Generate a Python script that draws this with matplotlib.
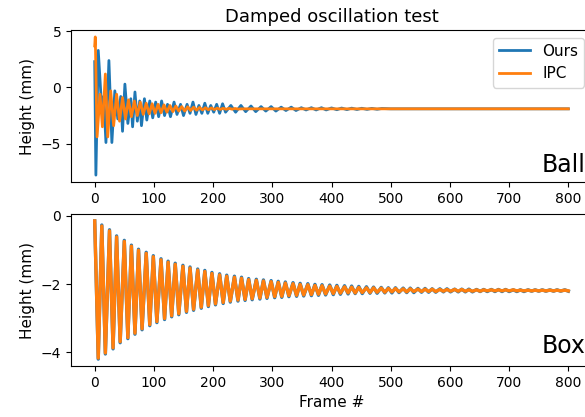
import matplotlib
matplotlib.use("Agg")
import matplotlib.pyplot as plt

# ---- Box: extremes of the oscillation ----
box_peak_frames = [0, 12, 25, 37, 50, 62, 74, 87, 99, 112, 124, 136, 149, 161, 174, 186,
                   198, 211, 223, 236, 248, 260, 273, 285, 298, 310, 322, 335, 347, 360,
                   372, 384, 397, 409, 422, 434, 446, 459, 471, 484, 496, 508, 521, 533,
                   546, 558, 570, 583, 595, 608, 620, 632, 645, 657, 670, 682, 694, 707,
                   719, 732, 744, 756, 769, 781, 794]
box_trough_frames = [6, 18, 31, 43, 56, 68, 80, 93, 105, 118, 130, 142, 155, 167, 180, 192,
                     204, 217, 229, 242, 254, 266, 279, 291, 304, 316, 328, 341, 353, 366,
                     378, 390, 403, 415, 428, 440, 452, 465, 477, 490, 502, 514, 527, 539,
                     552, 564, 576, 589, 601, 614, 626, 638, 651, 663, 676, 688, 700, 713,
                     725, 738, 750, 762, 775, 787, 800]

box_ipc_peaks = [-0.15, -0.30, -0.44, -0.62, -0.75, -0.89, -1.01, -1.10, -1.20, -1.29,
                 -1.36, -1.42, -1.48, -1.53, -1.59, -1.63, -1.69, -1.73, -1.77, -1.80,
                 -1.83, -1.87, -1.89, -1.91, -1.93, -1.95, -1.97, -1.99, -2.01, -2.02,
                 -2.04, -2.05, -2.06, -2.07, -2.08, -2.09, -2.10, -2.11, -2.11, -2.12,
                 -2.13, -2.13, -2.14, -2.14, -2.15, -2.15, -2.15, -2.16, -2.16, -2.16,
                 -2.16, -2.17, -2.17, -2.17, -2.17, -2.17, -2.17, -2.17, -2.18, -2.18,
                 -2.18, -2.18, -2.18, -2.18, -2.18]
box_ipc_troughs = [-4.17, -4.02, -3.87, -3.69, -3.57, -3.44, -3.31, -3.19, -3.10, -3.01,
                   -2.93, -2.87, -2.80, -2.74, -2.68, -2.63, -2.58, -2.54, -2.50, -2.47,
                   -2.45, -2.43, -2.41, -2.39, -2.37, -2.36, -2.34, -2.33, -2.32, -2.31,
                   -2.30, -2.29, -2.28, -2.27, -2.26, -2.26, -2.25, -2.25, -2.24, -2.24,
                   -2.23, -2.23, -2.23, -2.22, -2.22, -2.22, -2.22, -2.21, -2.21, -2.21,
                   -2.21, -2.21, -2.21, -2.20, -2.20, -2.20, -2.20, -2.20, -2.20, -2.20,
                   -2.20, -2.20, -2.20, -2.20, -2.20]

box_ours_peaks = [-0.15, -0.27, -0.41, -0.59, -0.72, -0.86, -0.98, -1.07, -1.17, -1.26,
                  -1.33, -1.39, -1.45, -1.50, -1.56, -1.60, -1.66, -1.70, -1.74, -1.77,
                  -1.80, -1.84, -1.86, -1.88, -1.90, -1.92, -1.94, -1.96, -1.98, -1.99,
                  -2.01, -2.02, -2.03, -2.04, -2.05, -2.06, -2.07, -2.08, -2.09, -2.10,
                  -2.11, -2.11, -2.12, -2.12, -2.13, -2.13, -2.14, -2.14, -2.14, -2.15,
                  -2.15, -2.15, -2.16, -2.16, -2.16, -2.16, -2.16, -2.17, -2.17, -2.17,
                  -2.17, -2.17, -2.17, -2.17, -2.17]
box_ours_troughs = [-4.20, -4.05, -3.90, -3.72, -3.60, -3.47, -3.34, -3.22, -3.13, -3.04,
                    -2.96, -2.90, -2.83, -2.77, -2.71, -2.66, -2.61, -2.57, -2.53, -2.50,
                    -2.48, -2.46, -2.44, -2.42, -2.40, -2.39, -2.37, -2.36, -2.35, -2.34,
                    -2.33, -2.32, -2.31, -2.30, -2.29, -2.28, -2.28, -2.27, -2.27, -2.26,
                    -2.26, -2.25, -2.25, -2.25, -2.24, -2.24, -2.24, -2.23, -2.23, -2.23,
                    -2.23, -2.23, -2.22, -2.22, -2.22, -2.22, -2.22, -2.22, -2.22, -2.21,
                    -2.21, -2.21, -2.21, -2.21, -2.21]

# ---- Ball: turning points ----
ball_ours_frames = [0, 2, 6, 12, 15, 19, 24, 29, 34, 39, 44, 47, 51, 56, 61, 64, 68, 72,
                    76, 79, 84, 88, 93, 98, 103, 108, 113, 118, 123, 128, 134, 139, 145,
                    150, 156, 161, 166, 171, 176, 181, 186, 191, 196, 201, 206, 211, 216,
                    221, 230, 238, 247, 255, 264, 272, 281, 289, 298, 306, 315, 323, 332,
                    340, 349, 357, 366, 374, 383, 391, 400, 409, 417, 426, 434, 443, 451,
                    460, 468, 477, 485, 500, 600, 700, 800]
ball_ours_values = [2.3, -7.8, 3.3, -2.0, -0.8, -4.9, 2.4, -4.9, -0.3, -2.8, -0.8, -3.9,
                    0.3, -3.2, -1.0, -3.5, -0.4, -3.0, -1.2, -3.4, -1.0, -2.9, -1.2, -2.7,
                    -1.3, -2.6, -1.2, -2.5, -1.5, -2.6, -1.3, -2.4, -1.5, -2.5, -1.5, -2.3,
                    -1.3, -2.4, -1.6, -2.3, -1.4, -2.3, -1.6, -2.2, -1.5, -2.3, -1.45, -2.2,
                    -1.6, -2.2, -1.6, -2.15, -1.65, -2.15, -1.7, -2.1, -1.7, -2.1, -1.75,
                    -2.05, -1.75, -2.05, -1.8, -2.0, -1.8, -2.0, -1.8, -2.0, -1.82, -1.98,
                    -1.83, -1.97, -1.84, -1.96, -1.85, -1.95, -1.86, -1.94, -1.87, -1.9,
                    -1.9, -1.9, -1.9]

ball_ipc_frames = [0, 1, 4, 9, 13, 18, 22, 27, 32, 37, 42, 47, 52, 57, 62, 67, 72, 77, 82,
                   87, 92, 97, 102, 107, 112, 117, 122, 127, 132, 137, 142, 147, 152, 157,
                   162, 167, 172, 177, 182, 187, 192, 197, 202, 207, 212, 217, 222, 227,
                   232, 237, 242, 250, 300, 400, 500, 600, 700, 800]
ball_ipc_values = [3.7, 4.5, -4.4, -0.6, -3.5, 1.2, -4.4, -0.3, -3.4, -0.6, -3.0, -0.9,
                   -2.8, -1.1, -2.6, -1.2, -2.5, -1.3, -2.4, -1.4, -2.35, -1.45, -2.3,
                   -1.5, -2.25, -1.55, -2.2, -1.6, -2.15, -1.65, -2.1, -1.7, -2.1, -1.72,
                   -2.05, -1.75, -2.02, -1.78, -2.0, -1.8, -1.98, -1.82, -1.96, -1.84,
                   -1.95, -1.85, -1.94, -1.86, -1.93, -1.87, -1.92, -1.9, -1.9, -1.9,
                   -1.9, -1.9, -1.9, -1.9]


def zigzag(peak_frames, peaks, trough_frames, troughs):
    pts = sorted(list(zip(peak_frames, peaks)) + list(zip(trough_frames, troughs)))
    return [p[0] for p in pts], [p[1] for p in pts]


fig = plt.figure(figsize=(5.85, 4.17), dpi=100)
ax1 = fig.add_axes([0.1214, 0.5635, 0.8906, 0.3645])
ax2 = fig.add_axes([0.1214, 0.1223, 0.8906, 0.3645])

lw = 2.0
ax1.plot(ball_ours_frames, ball_ours_values, lw=lw, label="Ours")
ax1.plot(ball_ipc_frames, ball_ipc_values, lw=lw, label="IPC")
ax1.set_title("Damped oscillation test", fontsize=13)
ax1.set_ylabel("Height (mm)", fontsize=11)
ax1.legend(loc="upper right", fontsize=11)
ax1.text(0.904, 0.068, "Ball", transform=ax1.transAxes, fontsize=17,
         ha="left", va="baseline")

x, y = zigzag(box_peak_frames, box_ours_peaks, box_trough_frames, box_ours_troughs)
ax2.plot(x, y, lw=lw + 0.4, label="Ours")
x, y = zigzag(box_peak_frames, box_ipc_peaks, box_trough_frames, box_ipc_troughs)
ax2.plot(x, y, lw=lw + 0.4, label="IPC")
ax2.set_ylabel("Height (mm)", fontsize=11)
ax2.set_xlabel("Frame #", fontsize=11)
ax2.text(0.904, 0.083, "Box", transform=ax2.transAxes, fontsize=17,
         ha="left", va="baseline")

for ax in (ax1, ax2):
    ax.set_xticks([0, 100, 200, 300, 400, 500, 600, 700, 800])
ax1.set_yticks([-5, 0, 5])
ax2.set_yticks([-4, -2, 0])

fig.savefig("out.png", dpi=100)
